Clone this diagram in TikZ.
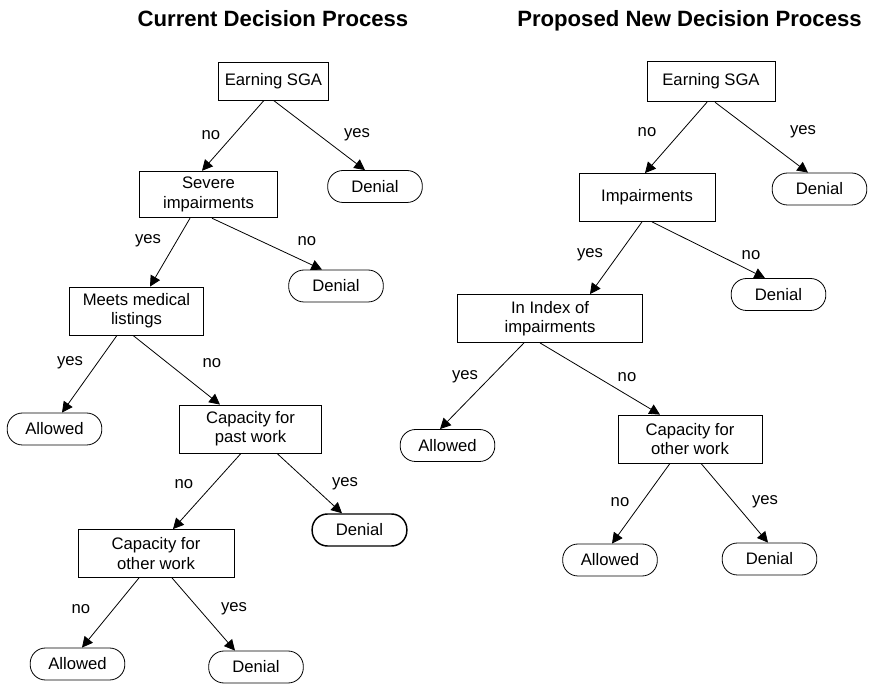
\documentclass[tikz,border=0pt]{standalone}
\usepackage{fontspec}
\setmainfont{Liberation Sans}
\usepackage{tikz}
\usetikzlibrary{arrows.meta, calc}

\begin{document}
\begin{tikzpicture}[x=0.75pt, y=-0.75pt,
      every node/.style={font=\fontsize{12.5}{14.5}\selectfont},
      box/.style={draw, align=center, inner sep=2pt, line width=0.6pt, minimum height=36pt},
      term/.style={draw, rounded corners=11.5pt, minimum width=71pt, minimum height=24pt,
                   inner sep=2pt, line width=0.6pt},
      lbl/.style={inner sep=0pt},
      hdr/.style={font=\fontsize{16.6}{20}\selectfont\bfseries, anchor=base, inner sep=0pt},
      ar/.style={-{Triangle[length=8pt, width=8pt]}, line width=0.6pt}]
    \useasboundingbox (0,0) rectangle (869,684);

    % current process
    \node[hdr] (t1) at (273,27) {Current Decision Process};
    \node[box, minimum width=83pt, minimum height=28.5pt] (ce1) at (273.5,81) {Earning SGA};
    \node[term] (cd1) at (375,186.5) {Denial};
    \node[box, minimum width=103pt, minimum height=35pt] (ce2) at (208.5,194.5) {Severe\\impairments};
    \node[term] (cd2) at (336,286) {Denial};
    \node[box, minimum width=100pt] (ce3) at (136.5,311) {Meets medical\\listings};
    \node[term] (ca1) at (54.5,429) {Allowed};
    \node[box, minimum width=106pt] (ce4) at (250.5,429) {Capacity for\\past work};
    \node[term, line width=1.1pt] (cd3) at (359.5,530) {Denial};
    \node[box, minimum width=117pt] (ce5) at (156,553.5) {Capacity for\\other work};
    \node[term] (ca2) at (77.5,664) {Allowed};
    \node[term] (cd4) at (256,667) {Denial};

    \draw[ar] ($(ce1.south)+(-9.5,0)$) -- ($(ce2.north)+(-6.5,0)$);
    \draw[ar] (ce1.south) -- ($(cd1.north)+(-10,0)$);
    \draw[ar] ($(ce2.south)+(-18.5,0)$) -- ($(ce3.north)+(13.5,0)$);
    \draw[ar] ($(ce2.south)+(3.5,0)$) -- ($(cd2.north)+(-14,0)$);
    \draw[ar] ($(ce3.south)+(-19.5,0)$) -- ($(ca1.north)+(7.5,0)$);
    \draw[ar] ($(ce3.south)+(-3.5,0)$) -- ($(ce4.north)+(-30.5,0)$);
    \draw[ar] ($(ce4.south)+(-9.5,0)$) -- ($(ce5.north)+(17,0)$);
    \draw[ar] ($(ce4.south)+(26.5,0)$) -- ($(cd3.north)+(-17.5,0)$);
    \draw[ar] ($(ce5.south)+(-17,0)$) -- ($(ca2.north)+(4.5,0)$);
    \draw[ar] ($(ce5.south)+(16,0)$) -- ($(cd4.north)+(-21,0)$);

    \node[lbl] (cl1) at (211,135) {no};
    \node[lbl] (cl2) at (357,135) {yes};
    \node[lbl] (cl3) at (148,241) {yes};
    \node[lbl] (cl4) at (307,241) {no};
    \node[lbl] (cl5) at (70,363) {yes};
    \node[lbl] (cl6) at (212,363) {no};
    \node[lbl] (cl7) at (184,484) {no};
    \node[lbl] (cl8) at (345,484) {yes};
    \node[lbl] (cl9) at (81,609) {no};
    \node[lbl] (cl10) at (234,609) {yes};

    % proposed process
    \node[hdr] (t2) at (689.5,27) {Proposed New Decision Process};
    \node[box, minimum width=96pt, minimum height=30.5pt] (pe1) at (711,81.5) {Earning SGA};
    \node[term] (pd1) at (819.5,189) {Denial};
    \node[box, minimum width=102pt] (pe2) at (647,197.5) {Impairments};
    \node[term] (pd2) at (778.5,294.5) {Denial};
    \node[box, minimum width=139pt] (pe3) at (550,318.5) {In Index of\\impairments};
    \node[term] (pa1) at (447.5,445.5) {Allowed};
    \node[box, minimum width=108pt] (pe4) at (690,439) {Capacity for\\other work};
    \node[term] (pa2) at (610,560) {Allowed};
    \node[term] (pd3) at (769.5,559) {Denial};

    \draw[ar] ($(pe1.south)+(-4,0)$) -- ($(pe2.north)+(-2,0)$);
    \draw[ar] ($(pe1.south)+(4,0)$) -- ($(pd1.north)+(-11.5,0)$);
    \draw[ar] ($(pe2.south)+(-5,0)$) -- ($(pe3.north)+(40,0)$);
    \draw[ar] ($(pe2.south)+(5,0)$) -- ($(pd2.north)+(-13.5,0)$);
    \draw[ar] ($(pe3.south)+(-26,0)$) -- ($(pa1.north)+(-7.5,0)$);
    \draw[ar] ($(pe3.south)+(-10,0)$) -- ($(pe4.north)+(-30,0)$);
    \draw[ar] ($(pe4.south)+(-20,0)$) -- ($(pa2.north)+(2,0)$);
    \draw[ar] ($(pe4.south)+(11,0)$) -- ($(pd3.north)+(-1.5,0)$);

    \node[lbl] (pl1) at (647,132) {no};
    \node[lbl] (pl2) at (803,132) {yes};
    \node[lbl] (pl3) at (590,255) {yes};
    \node[lbl] (pl4) at (751,255) {no};
    \node[lbl] (pl5) at (465,377) {yes};
    \node[lbl] (pl6) at (627,377) {no};
    \node[lbl] (pl7) at (620,502) {no};
    \node[lbl] (pl8) at (765,502) {yes};
  \end{tikzpicture}
\end{document}
